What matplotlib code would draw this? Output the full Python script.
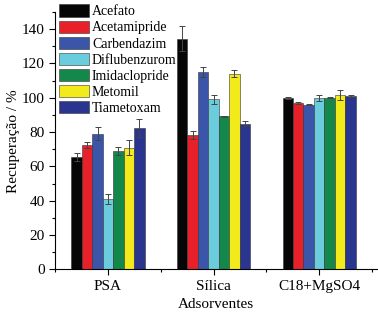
import matplotlib
matplotlib.use('Agg')
import matplotlib.pyplot as plt
import numpy as np
from matplotlib.ticker import MultipleLocator

plt.rcParams['font.family'] = ['Liberation Serif', 'DejaVu Serif']

groups = ['PSA', 'Sílica', 'C18+MgSO4']
pesticides = ['Acefato', 'Acetamipride', 'Carbendazim', 'Diflubenzurom',
              'Imidaclopride', 'Metomil', 'Tiametoxam']
colors = ['#060606', '#e8202a', '#3b56a8', '#6accdc', '#13884a', '#f3ea1b', '#2a3590']

# recovery (%) per pesticide, in group order PSA, Silica, C18+MgSO4
acefato = [65.5, 134.5, 100.0]
acetamipride = [72.5, 78.5, 97.0]
carbendazim = [79.0, 115.0, 96.0]
diflubenzurom = [41.0, 99.0, 99.8]
imidaclopride = [69.0, 89.2, 100.0]
metomil = [71.0, 114.0, 101.5]
tiametoxam = [82.5, 85.0, 101.0]

acefato_err = [2.5, 7.0, 0.5]
acetamipride_err = [1.7, 2.3, 0.7]
carbendazim_err = [3.7, 3.0, 0.5]
diflubenzurom_err = [3.0, 2.5, 1.7]
imidaclopride_err = [2.2, 0.4, 0.4]
metomil_err = [4.3, 2.0, 2.9]
tiametoxam_err = [5.4, 1.7, 0.8]

values = [acefato, acetamipride, carbendazim, diflubenzurom, imidaclopride, metomil, tiametoxam]
errors = [acefato_err, acetamipride_err, carbendazim_err, diflubenzurom_err,
          imidaclopride_err, metomil_err, tiametoxam_err]

fig = plt.figure(figsize=(3.78, 3.13), dpi=100)
ax = fig.add_axes([0.146, 0.139, 0.852, 0.823])

x = np.arange(1, 4)
w = 0.099
for i in range(7):
    pos = x + (i - 3) * w
    ax.bar(pos, values[i], w, color=colors[i], edgecolor='#333333', linewidth=0.4,
           label=pesticides[i], zorder=2)
    ax.errorbar(pos, values[i], yerr=errors[i], fmt='none', ecolor='#444444',
                elinewidth=0.7, capsize=2.5, capthick=0.7, zorder=3)

ax.set_xlim(0.5, 3.55)
ax.set_ylim(0, 150)
ax.set_xticks(x)
ax.set_xticklabels(groups)
ax.set_xticks([0.5, 1.5, 2.5, 3.5], minor=True)
ax.set_yticks(np.arange(0, 141, 20))
ax.yaxis.set_minor_locator(MultipleLocator(10))
ax.tick_params(axis='both', labelsize=11, length=4, width=0.8, direction='out')
ax.tick_params(which='minor', length=2.5, width=0.8)
ax.spines['top'].set_visible(False)
ax.spines['right'].set_visible(False)

ax.set_xlabel('Adsorventes', fontsize=11, labelpad=4)
ax.set_ylabel('Recuperação / %', fontsize=11, labelpad=1.5)

leg = ax.legend(loc='upper left', bbox_to_anchor=(0.0, 1.045), frameon=False, fontsize=10,
                handlelength=2.15, handleheight=1.0, labelspacing=0.15, handletextpad=0.2,
                borderaxespad=0.0, borderpad=0.3)
leg.set_zorder(10)

fig.savefig('out.png', dpi=100)
